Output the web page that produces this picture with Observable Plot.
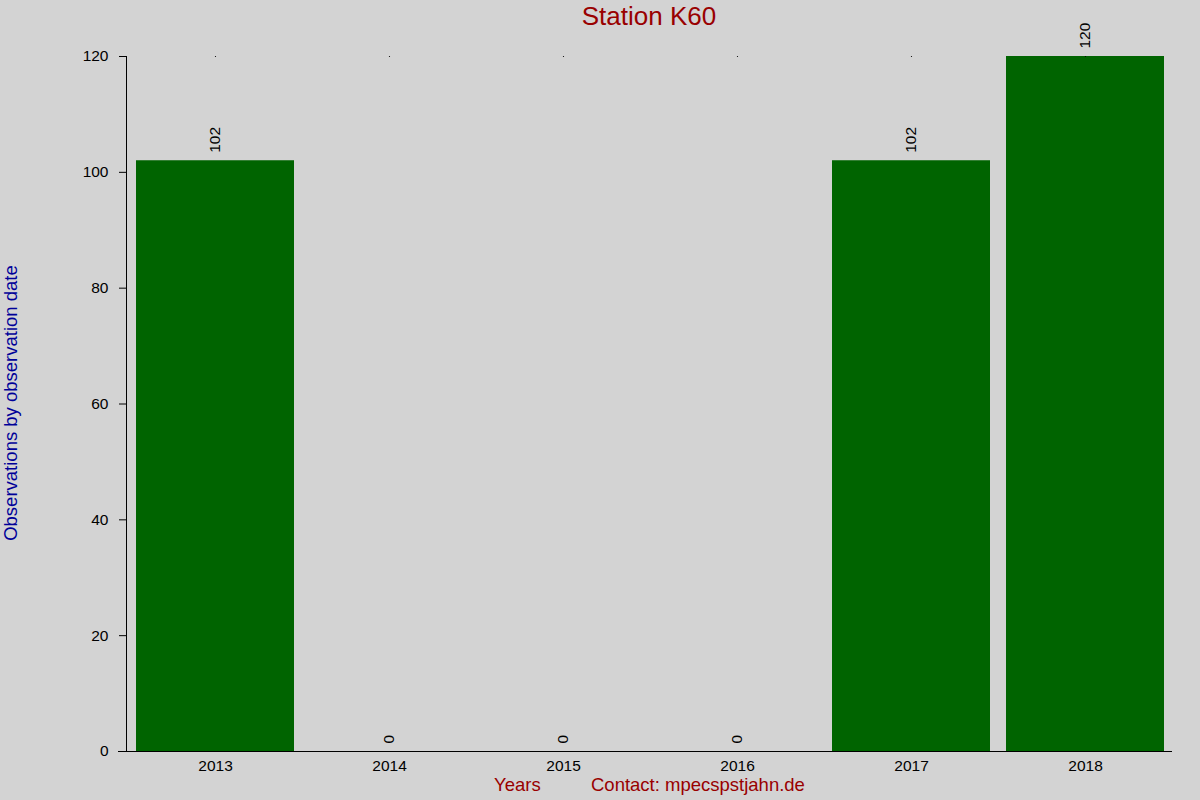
<!DOCTYPE html>
<html>
<head>
<meta charset="utf-8">
<script src="https://cdn.jsdelivr.net/npm/d3@7"></script>
<script src="https://cdn.jsdelivr.net/npm/@observablehq/plot@0.6"></script>
<style>
  html, body { margin: 0; padding: 0; background: #d3d3d3; }
  #wrap { position: relative; width: 1200px; height: 800px; background: #d3d3d3; font-family: "Liberation Sans", Arial, sans-serif; overflow: hidden; }
  .lbl { position: absolute; white-space: nowrap; }
</style>
</head>
<body>
<div id="wrap">
  <div class="lbl" id="title" style="left:0;width:1298px;top:1px;text-align:center;font-size:26px;color:#990000;">Station K60</div>
  <div class="lbl" id="ylab" style="left:11px;top:403px;font-size:18.5px;color:#000099;transform:translate(-50%,-50%) rotate(-90deg);">Observations by observation date</div>
  <div class="lbl" id="xlab" style="left:494px;top:774px;font-size:18.5px;color:#990000;">Years</div>
  <div class="lbl" id="contact" style="left:591px;top:774px;font-size:18.5px;color:#990000;">Contact: mpecspstjahn.de</div>
</div>
<script>
const years = ["2013", "2014", "2015", "2016", "2017", "2018"];
const counts = [102, 0, 0, 0, 102, 120];
const yTicks = [0, 20, 40, 60, 80, 100, 120];

const data = years.map((y, i) => ({year: y, count: counts[i]}));
const yMax = yTicks[yTicks.length - 1];

const chart = Plot.plot({
  width: 1200,
  height: 800,
  marginLeft: 127,
  marginRight: 28,
  marginTop: 56,
  marginBottom: 49,
  style: {background: "transparent", fontFamily: "'Liberation Sans', Arial, sans-serif", fontSize: "15.5px", color: "#000"},
  x: {domain: years, paddingInner: 0.093, paddingOuter: 0.046, label: null},
  y: {domain: [0, yMax], label: null},
  marks: [
    Plot.barY(data, {x: "year", y: "count", fill: "#006400"}),
    Plot.axisY({ticks: yTicks, tickSize: 8, tickPadding: 11, tickFormat: d => d, fontSize: 15.5, label: null}),
    Plot.axisX({tickSize: 0, tickPadding: 8, fontSize: 15.5, label: null}),
    Plot.ruleY([0], {stroke: "#000", insetLeft: -9}),
    Plot.frame({anchor: "left", stroke: "#000", insetLeft: -1}),
    Plot.dot(years, {x: d => d, y: () => yMax, r: 0.6, fill: "#000", stroke: null}),
    Plot.text(data, {x: "year", y: "count", text: d => String(d.count), rotate: -90, textAnchor: "start", lineAnchor: "middle", dy: -8, fontSize: 15.5, fill: "#000"})
  ]
});
document.getElementById("wrap").appendChild(chart);
chart.style.position = "absolute";
chart.style.left = "0";
chart.style.top = "0";
</script>
</body>
</html>
